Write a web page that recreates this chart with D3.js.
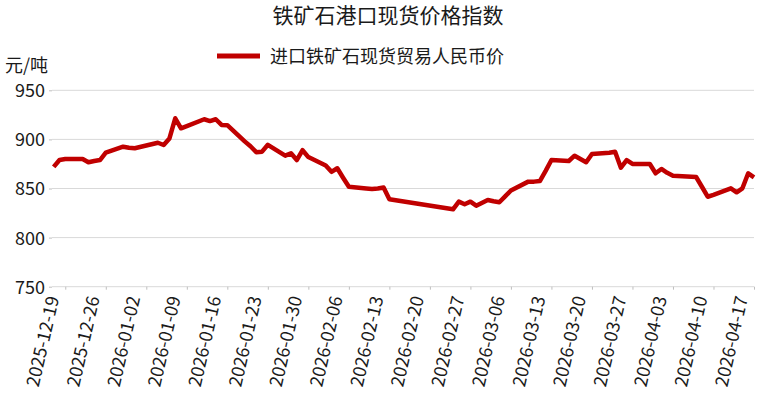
<!DOCTYPE html>
<html>
<head>
<meta charset="utf-8">
<script src="https://cdn.jsdelivr.net/npm/d3@7"></script>
<style>
  html, body { margin: 0; padding: 0; background: #fff; }
  svg { display: block; font-family: "Noto Sans CJK SC", "Noto Sans", sans-serif; }
</style>
</head>
<body>
<svg id="chart" width="773" height="396"></svg>
<script>
const titleText = "铁矿石港口现货价格指数";
const seriesName = "进口铁矿石现货贸易人民币价";
const unitText = "元/吨";

const dates = [
  "2025-12-17","2025-12-18","2025-12-19","2025-12-22","2025-12-23","2025-12-24","2025-12-25","2025-12-26",
  "2025-12-29","2025-12-30","2025-12-31","2026-01-04","2026-01-05","2026-01-06","2026-01-07","2026-01-08",
  "2026-01-09","2026-01-12","2026-01-13","2026-01-14","2026-01-15","2026-01-16","2026-01-19","2026-01-20",
  "2026-01-21","2026-01-22","2026-01-23","2026-01-26","2026-01-27","2026-01-28","2026-01-29","2026-01-30",
  "2026-02-02","2026-02-03","2026-02-04","2026-02-05","2026-02-06","2026-02-09","2026-02-10","2026-02-11",
  "2026-02-12","2026-02-13","2026-02-24","2026-02-25","2026-02-26","2026-02-27","2026-02-28","2026-03-02",
  "2026-03-03","2026-03-04","2026-03-05","2026-03-06","2026-03-09","2026-03-10","2026-03-11","2026-03-12",
  "2026-03-13","2026-03-16","2026-03-17","2026-03-18","2026-03-19","2026-03-20","2026-03-23","2026-03-24",
  "2026-03-25","2026-03-26","2026-03-27","2026-03-30","2026-03-31","2026-04-01","2026-04-02","2026-04-03",
  "2026-04-07","2026-04-08","2026-04-09","2026-04-10","2026-04-13","2026-04-14","2026-04-15","2026-04-16",
  "2026-04-17"
];
const values = [
  872, 879, 880, 880, 876.7, 878, 879, 886.5,
  892.6, 891.5, 891, 896.6, 894.3, 901, 921.5, 911.3,
  913.5, 920.5, 918.7, 920.5, 914.7, 914.5, 898, 893,
  887, 887.5, 894.5, 883.4, 885.8, 879, 889, 882,
  873.5, 867, 870.6, 861, 851.8, 850, 849.5, 850,
  851, 839, 828.8, 836.6, 834, 836.6, 832.5, 838.3,
  837, 836, 842, 848, 857, 857, 857.6, 868,
  879, 878, 883.4, 880, 876.7, 885.2, 886.5, 887.5,
  871.2, 879, 875, 875, 865.5, 869.9, 866, 863,
  861.7, 851.8, 841.6, 843.5, 850.2, 846.1, 850.2, 865.5,
  861.4
];
const xTickLabels = [
  "2025-12-19","2025-12-26","2026-01-02","2026-01-09","2026-01-16","2026-01-23",
  "2026-01-30","2026-02-06","2026-02-13","2026-02-20","2026-02-27","2026-03-06",
  "2026-03-13","2026-03-20","2026-03-27","2026-04-03","2026-04-10","2026-04-17"
];
const yTicks = [750, 800, 850, 900, 950];

const parse = d3.utcParse("%Y-%m-%d");
const data = dates.map((d, i) => ({ date: parse(d), value: values[i] }));

const svg = d3.select("#chart");
const plotLeft = 52, plotRight = 754, plotTop = 90.3, plotBottom = 286.7;

const x = d3.scaleUtc()
  .domain([parse("2025-12-17"), parse("2026-04-17")])
  .range([53.7, plotRight]);
const y = d3.scaleLinear().domain([750, 950]).range([plotBottom, plotTop]);

// gridlines
svg.append("g").selectAll("line").data(yTicks.filter(v => v !== 750)).join("line")
  .attr("x1", plotLeft).attr("x2", plotRight)
  .attr("y1", d => y(d)).attr("y2", d => y(d))
  .attr("stroke", "#d9d9d9").attr("stroke-width", 1);

// y axis (labels + small ticks)
const yAxis = d3.axisLeft(y).tickValues(yTicks).tickSize(3).tickPadding(4);
const gy = svg.append("g").attr("transform", `translate(${plotLeft},0)`).call(yAxis);
gy.select(".domain").remove();
gy.selectAll(".tick line").attr("stroke", "#bfbfbf");
gy.selectAll(".tick text")
  .attr("font-size", 18).attr("fill", "#1a1a1a")
  .attr("font-family", '"Noto Sans CJK SC", sans-serif')
  .attr("dy", "0.36em");

// x axis
const tickDates = xTickLabels.map(parse);
const xAxis = d3.axisBottom(x).tickValues(tickDates).tickSize(3).tickFormat("");
const gx = svg.append("g").attr("transform", `translate(0,${plotBottom})`).call(xAxis);
gx.select(".domain").attr("d", `M${plotLeft},0H${plotRight}`).attr("stroke", "#d9d9d9");
gx.selectAll(".tick line").attr("stroke", "#bfbfbf");

svg.append("g").selectAll("text").data(xTickLabels).join("text")
  .attr("transform", d => `translate(${x(parse(d)) - 6},${plotBottom + 11}) rotate(-77)`)
  .attr("text-anchor", "end")
  .attr("font-size", 18).attr("fill", "#1a1a1a")
  .text(d => d);

// line
const line = d3.line().x(d => x(d.date)).y(d => y(d.value));
svg.append("path").datum(data)
  .attr("d", line)
  .attr("fill", "none").attr("stroke", "#c00000")
  .attr("stroke-width", 4.5).attr("stroke-linejoin", "round").attr("stroke-linecap", "butt");

// title
svg.append("text").attr("x", 388).attr("y", 14)
  .attr("text-anchor", "middle").attr("dominant-baseline", "central")
  .attr("font-size", 21).attr("fill", "#1a1a1a").text(titleText);

// legend
svg.append("line").attr("x1", 217).attr("x2", 260).attr("y1", 56).attr("y2", 56)
  .attr("stroke", "#c00000").attr("stroke-width", 5);
svg.append("text").attr("x", 270).attr("y", 55)
  .attr("dominant-baseline", "central")
  .attr("font-size", 18).attr("fill", "#1a1a1a").text(seriesName);

// unit
svg.append("text").attr("x", 5).attr("y", 64)
  .attr("dominant-baseline", "central")
  .attr("font-size", 18).attr("fill", "#1a1a1a").text(unitText);
</script>
</body>
</html>
